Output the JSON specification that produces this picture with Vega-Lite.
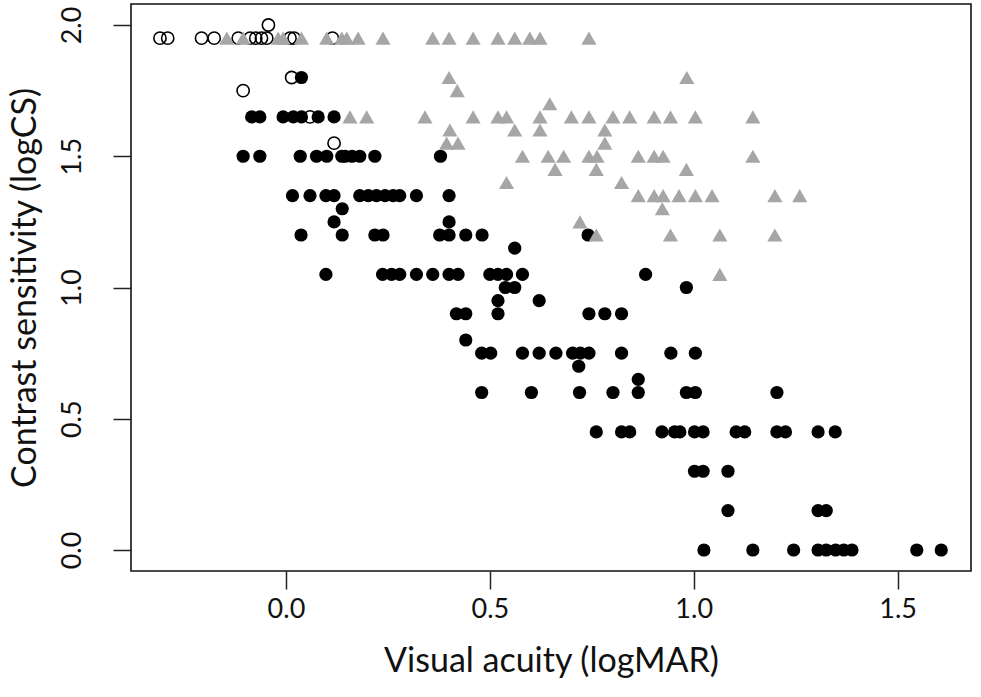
{
  "$schema": "https://vega.github.io/schema/vega-lite/v6.json",
  "width": 840,
  "height": 567,
  "autosize": {"type": "none"},
  "padding": {"left": 131, "top": 4, "right": 10, "bottom": 126},
  "background": "white",
  "config": {
    "view": {"stroke": "#111", "strokeWidth": 1.6},
    "font": "Lato",
    "axis": {"grid": false, "domain": false, "ticks": true, "tickColor": "#222", "tickWidth": 1.5, "tickSize": 18, "labelColor": "#111", "titleColor": "#111", "labelFont": "Lato", "titleFont": "Lato", "labelFontWeight": "normal", "titleFontWeight": "normal"}
  },
  "data": {"values": [
    {"acuity": 0.038, "cs": 1.80, "group": "filled"},
    {"acuity": -0.084, "cs": 1.65, "group": "filled"},
    {"acuity": -0.064, "cs": 1.65, "group": "filled"},
    {"acuity": -0.007, "cs": 1.65, "group": "filled"},
    {"acuity": 0.018, "cs": 1.65, "group": "filled"},
    {"acuity": 0.038, "cs": 1.65, "group": "filled"},
    {"acuity": 0.079, "cs": 1.65, "group": "filled"},
    {"acuity": 0.118, "cs": 1.65, "group": "filled"},
    {"acuity": -0.105, "cs": 1.50, "group": "filled"},
    {"acuity": -0.064, "cs": 1.50, "group": "filled"},
    {"acuity": 0.035, "cs": 1.50, "group": "filled"},
    {"acuity": 0.075, "cs": 1.50, "group": "filled"},
    {"acuity": 0.100, "cs": 1.50, "group": "filled"},
    {"acuity": 0.137, "cs": 1.50, "group": "filled"},
    {"acuity": 0.145, "cs": 1.50, "group": "filled"},
    {"acuity": 0.162, "cs": 1.50, "group": "filled"},
    {"acuity": 0.181, "cs": 1.50, "group": "filled"},
    {"acuity": 0.218, "cs": 1.50, "group": "filled"},
    {"acuity": 0.379, "cs": 1.50, "group": "filled"},
    {"acuity": 0.016, "cs": 1.35, "group": "filled"},
    {"acuity": 0.059, "cs": 1.35, "group": "filled"},
    {"acuity": 0.098, "cs": 1.35, "group": "filled"},
    {"acuity": 0.118, "cs": 1.35, "group": "filled"},
    {"acuity": 0.181, "cs": 1.35, "group": "filled"},
    {"acuity": 0.202, "cs": 1.35, "group": "filled"},
    {"acuity": 0.222, "cs": 1.35, "group": "filled"},
    {"acuity": 0.243, "cs": 1.35, "group": "filled"},
    {"acuity": 0.263, "cs": 1.35, "group": "filled"},
    {"acuity": 0.279, "cs": 1.35, "group": "filled"},
    {"acuity": 0.320, "cs": 1.35, "group": "filled"},
    {"acuity": 0.400, "cs": 1.35, "group": "filled"},
    {"acuity": 0.138, "cs": 1.30, "group": "filled"},
    {"acuity": 0.118, "cs": 1.25, "group": "filled"},
    {"acuity": 0.400, "cs": 1.25, "group": "filled"},
    {"acuity": 0.037, "cs": 1.20, "group": "filled"},
    {"acuity": 0.138, "cs": 1.20, "group": "filled"},
    {"acuity": 0.218, "cs": 1.20, "group": "filled"},
    {"acuity": 0.238, "cs": 1.20, "group": "filled"},
    {"acuity": 0.377, "cs": 1.20, "group": "filled"},
    {"acuity": 0.400, "cs": 1.20, "group": "filled"},
    {"acuity": 0.441, "cs": 1.20, "group": "filled"},
    {"acuity": 0.481, "cs": 1.20, "group": "filled"},
    {"acuity": 0.741, "cs": 1.20, "group": "filled"},
    {"acuity": 0.561, "cs": 1.15, "group": "filled"},
    {"acuity": 0.098, "cs": 1.05, "group": "filled"},
    {"acuity": 0.237, "cs": 1.05, "group": "filled"},
    {"acuity": 0.259, "cs": 1.05, "group": "filled"},
    {"acuity": 0.279, "cs": 1.05, "group": "filled"},
    {"acuity": 0.320, "cs": 1.05, "group": "filled"},
    {"acuity": 0.360, "cs": 1.05, "group": "filled"},
    {"acuity": 0.400, "cs": 1.05, "group": "filled"},
    {"acuity": 0.422, "cs": 1.05, "group": "filled"},
    {"acuity": 0.500, "cs": 1.05, "group": "filled"},
    {"acuity": 0.520, "cs": 1.05, "group": "filled"},
    {"acuity": 0.541, "cs": 1.05, "group": "filled"},
    {"acuity": 0.580, "cs": 1.05, "group": "filled"},
    {"acuity": 0.882, "cs": 1.05, "group": "filled"},
    {"acuity": 0.538, "cs": 1.00, "group": "filled"},
    {"acuity": 0.561, "cs": 1.00, "group": "filled"},
    {"acuity": 0.982, "cs": 1.00, "group": "filled"},
    {"acuity": 0.520, "cs": 0.95, "group": "filled"},
    {"acuity": 0.621, "cs": 0.95, "group": "filled"},
    {"acuity": 0.418, "cs": 0.90, "group": "filled"},
    {"acuity": 0.441, "cs": 0.90, "group": "filled"},
    {"acuity": 0.520, "cs": 0.90, "group": "filled"},
    {"acuity": 0.743, "cs": 0.90, "group": "filled"},
    {"acuity": 0.782, "cs": 0.90, "group": "filled"},
    {"acuity": 0.823, "cs": 0.90, "group": "filled"},
    {"acuity": 0.441, "cs": 0.80, "group": "filled"},
    {"acuity": 0.480, "cs": 0.75, "group": "filled"},
    {"acuity": 0.502, "cs": 0.75, "group": "filled"},
    {"acuity": 0.580, "cs": 0.75, "group": "filled"},
    {"acuity": 0.621, "cs": 0.75, "group": "filled"},
    {"acuity": 0.662, "cs": 0.75, "group": "filled"},
    {"acuity": 0.703, "cs": 0.75, "group": "filled"},
    {"acuity": 0.722, "cs": 0.75, "group": "filled"},
    {"acuity": 0.743, "cs": 0.75, "group": "filled"},
    {"acuity": 0.823, "cs": 0.75, "group": "filled"},
    {"acuity": 0.944, "cs": 0.75, "group": "filled"},
    {"acuity": 1.004, "cs": 0.75, "group": "filled"},
    {"acuity": 0.718, "cs": 0.70, "group": "filled"},
    {"acuity": 0.864, "cs": 0.65, "group": "filled"},
    {"acuity": 0.480, "cs": 0.60, "group": "filled"},
    {"acuity": 0.602, "cs": 0.60, "group": "filled"},
    {"acuity": 0.720, "cs": 0.60, "group": "filled"},
    {"acuity": 0.802, "cs": 0.60, "group": "filled"},
    {"acuity": 0.864, "cs": 0.60, "group": "filled"},
    {"acuity": 0.982, "cs": 0.60, "group": "filled"},
    {"acuity": 1.004, "cs": 0.60, "group": "filled"},
    {"acuity": 1.204, "cs": 0.60, "group": "filled"},
    {"acuity": 0.761, "cs": 0.45, "group": "filled"},
    {"acuity": 0.823, "cs": 0.45, "group": "filled"},
    {"acuity": 0.843, "cs": 0.45, "group": "filled"},
    {"acuity": 0.922, "cs": 0.45, "group": "filled"},
    {"acuity": 0.953, "cs": 0.45, "group": "filled"},
    {"acuity": 0.966, "cs": 0.45, "group": "filled"},
    {"acuity": 1.002, "cs": 0.45, "group": "filled"},
    {"acuity": 1.023, "cs": 0.45, "group": "filled"},
    {"acuity": 1.104, "cs": 0.45, "group": "filled"},
    {"acuity": 1.125, "cs": 0.45, "group": "filled"},
    {"acuity": 1.204, "cs": 0.45, "group": "filled"},
    {"acuity": 1.225, "cs": 0.45, "group": "filled"},
    {"acuity": 1.305, "cs": 0.45, "group": "filled"},
    {"acuity": 1.347, "cs": 0.45, "group": "filled"},
    {"acuity": 1.002, "cs": 0.30, "group": "filled"},
    {"acuity": 1.023, "cs": 0.30, "group": "filled"},
    {"acuity": 1.084, "cs": 0.30, "group": "filled"},
    {"acuity": 1.084, "cs": 0.15, "group": "filled"},
    {"acuity": 1.305, "cs": 0.15, "group": "filled"},
    {"acuity": 1.325, "cs": 0.15, "group": "filled"},
    {"acuity": 1.025, "cs": 0.00, "group": "filled"},
    {"acuity": 1.145, "cs": 0.00, "group": "filled"},
    {"acuity": 1.245, "cs": 0.00, "group": "filled"},
    {"acuity": 1.305, "cs": 0.00, "group": "filled"},
    {"acuity": 1.325, "cs": 0.00, "group": "filled"},
    {"acuity": 1.348, "cs": 0.00, "group": "filled"},
    {"acuity": 1.368, "cs": 0.00, "group": "filled"},
    {"acuity": 1.388, "cs": 0.00, "group": "filled"},
    {"acuity": 1.547, "cs": 0.00, "group": "filled"},
    {"acuity": 1.607, "cs": 0.00, "group": "filled"},
    {"acuity": -0.043, "cs": 2.00, "group": "open"},
    {"acuity": -0.309, "cs": 1.95, "group": "open"},
    {"acuity": -0.290, "cs": 1.95, "group": "open"},
    {"acuity": -0.207, "cs": 1.95, "group": "open"},
    {"acuity": -0.176, "cs": 1.95, "group": "open"},
    {"acuity": -0.117, "cs": 1.95, "group": "open"},
    {"acuity": -0.088, "cs": 1.95, "group": "open"},
    {"acuity": -0.074, "cs": 1.95, "group": "open"},
    {"acuity": -0.060, "cs": 1.95, "group": "open"},
    {"acuity": -0.047, "cs": 1.95, "group": "open"},
    {"acuity": 0.010, "cs": 1.95, "group": "open"},
    {"acuity": 0.020, "cs": 1.95, "group": "open"},
    {"acuity": 0.114, "cs": 1.95, "group": "open"},
    {"acuity": 0.014, "cs": 1.80, "group": "open"},
    {"acuity": -0.105, "cs": 1.75, "group": "open"},
    {"acuity": 0.059, "cs": 1.65, "group": "open"},
    {"acuity": 0.118, "cs": 1.55, "group": "open"},
    {"acuity": -0.145, "cs": 1.95, "group": "tri"},
    {"acuity": -0.105, "cs": 1.95, "group": "tri"},
    {"acuity": -0.019, "cs": 1.95, "group": "tri"},
    {"acuity": -0.007, "cs": 1.95, "group": "tri"},
    {"acuity": 0.038, "cs": 1.95, "group": "tri"},
    {"acuity": 0.100, "cs": 1.95, "group": "tri"},
    {"acuity": 0.137, "cs": 1.95, "group": "tri"},
    {"acuity": 0.149, "cs": 1.95, "group": "tri"},
    {"acuity": 0.177, "cs": 1.95, "group": "tri"},
    {"acuity": 0.238, "cs": 1.95, "group": "tri"},
    {"acuity": 0.360, "cs": 1.95, "group": "tri"},
    {"acuity": 0.400, "cs": 1.95, "group": "tri"},
    {"acuity": 0.459, "cs": 1.95, "group": "tri"},
    {"acuity": 0.520, "cs": 1.95, "group": "tri"},
    {"acuity": 0.561, "cs": 1.95, "group": "tri"},
    {"acuity": 0.598, "cs": 1.95, "group": "tri"},
    {"acuity": 0.623, "cs": 1.95, "group": "tri"},
    {"acuity": 0.743, "cs": 1.95, "group": "tri"},
    {"acuity": 0.400, "cs": 1.80, "group": "tri"},
    {"acuity": 0.983, "cs": 1.80, "group": "tri"},
    {"acuity": 0.420, "cs": 1.75, "group": "tri"},
    {"acuity": 0.647, "cs": 1.70, "group": "tri"},
    {"acuity": 0.157, "cs": 1.65, "group": "tri"},
    {"acuity": 0.198, "cs": 1.65, "group": "tri"},
    {"acuity": 0.341, "cs": 1.65, "group": "tri"},
    {"acuity": 0.459, "cs": 1.65, "group": "tri"},
    {"acuity": 0.520, "cs": 1.65, "group": "tri"},
    {"acuity": 0.541, "cs": 1.65, "group": "tri"},
    {"acuity": 0.623, "cs": 1.65, "group": "tri"},
    {"acuity": 0.700, "cs": 1.65, "group": "tri"},
    {"acuity": 0.743, "cs": 1.65, "group": "tri"},
    {"acuity": 0.802, "cs": 1.65, "group": "tri"},
    {"acuity": 0.843, "cs": 1.65, "group": "tri"},
    {"acuity": 0.903, "cs": 1.65, "group": "tri"},
    {"acuity": 0.943, "cs": 1.65, "group": "tri"},
    {"acuity": 1.004, "cs": 1.65, "group": "tri"},
    {"acuity": 1.145, "cs": 1.65, "group": "tri"},
    {"acuity": 0.402, "cs": 1.60, "group": "tri"},
    {"acuity": 0.561, "cs": 1.60, "group": "tri"},
    {"acuity": 0.623, "cs": 1.60, "group": "tri"},
    {"acuity": 0.782, "cs": 1.60, "group": "tri"},
    {"acuity": 0.394, "cs": 1.55, "group": "tri"},
    {"acuity": 0.422, "cs": 1.55, "group": "tri"},
    {"acuity": 0.782, "cs": 1.55, "group": "tri"},
    {"acuity": 0.580, "cs": 1.50, "group": "tri"},
    {"acuity": 0.643, "cs": 1.50, "group": "tri"},
    {"acuity": 0.681, "cs": 1.50, "group": "tri"},
    {"acuity": 0.743, "cs": 1.50, "group": "tri"},
    {"acuity": 0.763, "cs": 1.50, "group": "tri"},
    {"acuity": 0.864, "cs": 1.50, "group": "tri"},
    {"acuity": 0.903, "cs": 1.50, "group": "tri"},
    {"acuity": 0.925, "cs": 1.50, "group": "tri"},
    {"acuity": 1.145, "cs": 1.50, "group": "tri"},
    {"acuity": 0.660, "cs": 1.45, "group": "tri"},
    {"acuity": 0.761, "cs": 1.45, "group": "tri"},
    {"acuity": 0.982, "cs": 1.45, "group": "tri"},
    {"acuity": 0.541, "cs": 1.40, "group": "tri"},
    {"acuity": 0.823, "cs": 1.40, "group": "tri"},
    {"acuity": 0.864, "cs": 1.35, "group": "tri"},
    {"acuity": 0.903, "cs": 1.35, "group": "tri"},
    {"acuity": 0.925, "cs": 1.35, "group": "tri"},
    {"acuity": 0.964, "cs": 1.35, "group": "tri"},
    {"acuity": 1.004, "cs": 1.35, "group": "tri"},
    {"acuity": 1.045, "cs": 1.35, "group": "tri"},
    {"acuity": 1.199, "cs": 1.35, "group": "tri"},
    {"acuity": 1.260, "cs": 1.35, "group": "tri"},
    {"acuity": 0.923, "cs": 1.30, "group": "tri"},
    {"acuity": 0.721, "cs": 1.25, "group": "tri"},
    {"acuity": 0.761, "cs": 1.20, "group": "tri"},
    {"acuity": 0.943, "cs": 1.20, "group": "tri"},
    {"acuity": 1.064, "cs": 1.20, "group": "tri"},
    {"acuity": 1.199, "cs": 1.20, "group": "tri"},
    {"acuity": 1.064, "cs": 1.05, "group": "tri"}
  ]},
  "encoding": {
    "x": {"field": "acuity", "type": "quantitative", "scale": {"domain": [-0.38, 1.68], "nice": false, "zero": false},
      "axis": {"values": [0, 0.5, 1, 1.5], "format": ".1f", "labelFontSize": 27, "labelPadding": 7, "title": "Visual acuity (logMAR)", "titleFontSize": 34, "titlePadding": 22}},
    "y": {"field": "cs", "type": "quantitative", "scale": {"domain": [-0.08, 2.08], "nice": false, "zero": false},
      "axis": {"values": [0, 0.5, 1, 1.5, 2], "format": ".1f", "labelFontSize": 27, "labelAngle": -90, "labelAlign": "center", "labelBaseline": "bottom", "labelPadding": 27, "title": "Contrast sensitivity (logCS)", "titleFontSize": 34, "titlePadding": 16}}
  },
  "layer": [
    {"transform": [{"filter": "datum.group === 'filled'"}],
     "mark": {"type": "point", "shape": "circle", "filled": true, "color": "#000", "opacity": 1, "size": 175}},
    {"transform": [{"filter": "datum.group === 'open'"}],
     "mark": {"type": "point", "shape": "circle", "filled": false, "stroke": "#000", "strokeWidth": 1.6, "opacity": 1, "size": 150}},
    {"transform": [{"filter": "datum.group === 'tri'"}],
     "mark": {"type": "point", "shape": "triangle-up", "filled": true, "color": "#a6a6a6", "opacity": 1, "size": 230}}
  ]
}
